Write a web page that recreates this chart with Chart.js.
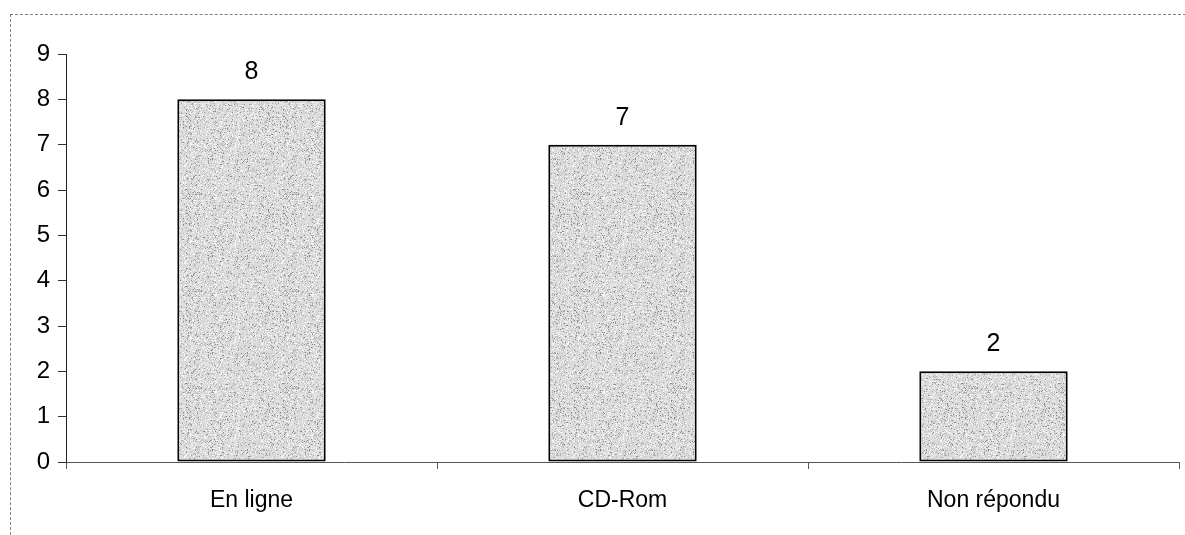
<!DOCTYPE html>
<html>
<head>
<meta charset="utf-8">
<script src="https://cdn.jsdelivr.net/npm/chart.js@4.4.0/dist/chart.umd.min.js"></script>
<style>
    html, body { margin: 0; padding: 0; background: #fff; }
    #wrap { position: relative; width: 1185px; height: 535px; overflow: hidden; }
    #frame {
        position: absolute; left: 10px; top: 14px; width: 1190px; height: 540px;
        border-top: 1px dashed #808080; border-left: 1px dashed #808080;
    }
    #graph { position: absolute; left: 0; top: 0; }
</style>
</head>
<body>
<div id="wrap">
    <div id="frame"></div>
    <canvas id="graph" width="1185" height="535"></canvas>
</div>
<script>
// donnees du graphique
const categories = ['En ligne', 'CD-Rom', 'Non répondu'];
const valeurs = [8, 7, 2];
const yTicks = [0, 1, 2, 3, 4, 5, 6, 7, 8, 9];

// motif gris pointille pour les barres (bruit deterministe)
function makePattern() {
    let size = 97;
    let c = document.createElement('canvas');
    c.width = size;
    c.height = size;
    let ctx = c.getContext('2d');
    ctx.fillStyle = '#dadada';
    ctx.fillRect(0, 0, size, size);
    let seed = 987654;
    function next() {
        seed = (seed * 1103515245 + 12345) & 0x7fffffff;
        return (seed >> 8) / 8388608;
    }
    for (let i = 0; i < 3600; i++) {
        let x = Math.floor(next() * size);
        let y = Math.floor(next() * size);
        let t = next();
        ctx.fillStyle = t < 0.55 ? '#f6f6f6' : (t < 0.88 ? '#b4b4b4' : '#8a8a8a');
        ctx.fillRect(x, y, 1, 1);
    }
    return document.getElementById('graph').getContext('2d').createPattern(c, 'repeat');
}

// etiquettes des valeurs au dessus des barres
const valueLabels = {
    id: 'valueLabels',
    afterDatasetsDraw(chart) {
        let ctx = chart.ctx;
        let meta = chart.getDatasetMeta(0);
        ctx.save();
        ctx.font = '25px "Liberation Sans", Arial, sans-serif';
        ctx.fillStyle = '#000';
        ctx.textAlign = 'center';
        ctx.textBaseline = 'alphabetic';
        meta.data.forEach((bar, i) => {
            ctx.fillText(String(valeurs[i]), bar.x, bar.y - 20);
        });
        ctx.restore();
    }
};

Chart.defaults.font.family = '"Liberation Sans", Arial, sans-serif';
Chart.defaults.color = '#000';

new Chart(document.getElementById('graph'), {
    type: 'bar',
    data: {
        labels: categories,
        datasets: [{
            data: valeurs,
            backgroundColor: makePattern(),
            borderColor: '#000',
            borderWidth: 2,
            borderSkipped: false,
            categoryPercentage: 1.0,
            barPercentage: 0.4
        }]
    },
    options: {
        responsive: false,
        animation: false,
        devicePixelRatio: 1,
        layout: { padding: { top: 54, right: 6, left: 0, bottom: 0 } },
        plugins: { legend: { display: false }, tooltip: { enabled: false } },
        scales: {
            x: {
                afterFit(scale) { scale.height = 73; },
                grid: {
                    drawOnChartArea: false,
                    drawTicks: true,
                    tickLength: 7,
                    tickColor: '#555'
                },
                border: { color: '#555', width: 1, dash: [14, 3] },
                ticks: { font: { size: 23 }, padding: 18, color: '#000' }
            },
            y: {
                min: 0,
                max: 9,
                afterFit(scale) { scale.width = 66; },
                afterBuildTicks(scale) { scale.ticks = yTicks.map(v => ({ value: v })); },
                grid: {
                    drawOnChartArea: false,
                    drawTicks: true,
                    tickLength: 8,
                    tickColor: '#333'
                },
                border: { color: '#222', width: 1 },
                ticks: { font: { size: 24 }, padding: 8, color: '#000' }
            }
        }
    },
    plugins: [valueLabels]
});
</script>
</body>
</html>
